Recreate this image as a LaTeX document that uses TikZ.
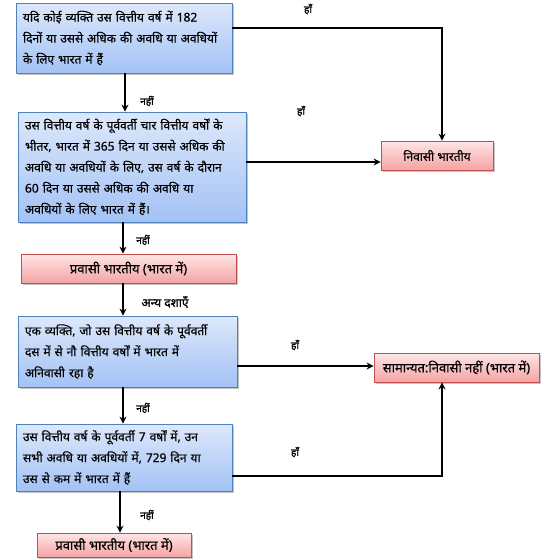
\documentclass[tikz,border=0pt]{standalone}
\usepackage{fontspec}
\setmainfont[Script=Devanagari]{Noto Sans}
\newfontfamily\devbold[Script=Devanagari, FakeBold=1.2]{Noto Sans}
\newfontfamily\devmid[Script=Devanagari, FakeBold=0.5]{Noto Sans}
\usetikzlibrary{arrows.meta,shadows}
\definecolor{bluetop}{HTML}{DDE8FB}
\definecolor{bluebot}{HTML}{A3C2F5}
\definecolor{blueedge}{HTML}{4F81BD}
\definecolor{redtop}{HTML}{FFE6E6}
\definecolor{redbot}{HTML}{F4A3A3}
\definecolor{rededge}{HTML}{C0504D}
\newcommand{\qfont}{\devmid\fontsize{12}{21}\selectfont\spaceskip=4pt plus 1pt minus 0.5pt\relax}
\tikzset{
  qbox/.style={draw=blueedge, line width=0.8pt, top color=bluetop, bottom color=bluebot,
    drop shadow={shadow xshift=1.5pt, shadow yshift=-2pt, fill=black!45},
    align=left, inner xsep=7pt, font=\qfont},
  rbox/.style={draw=rededge, line width=0.8pt, top color=redtop, bottom color=redbot,
    drop shadow={shadow xshift=1.5pt, shadow yshift=-2pt, fill=black!45},
    align=center, font=\devmid\fontsize{13}{15}\selectfont},
  arr/.style={line width=1.8pt, -{Stealth[length=7pt,width=7pt]}},
  lbl/.style={font=\devbold\fontsize{10}{12}\selectfont, inner sep=0pt}
}
\begin{document}
\begin{tikzpicture}[x=1pt,y=-1pt]
\useasboundingbox (0,0) rectangle (549,560);
% question boxes
\node[qbox, minimum width=216pt, minimum height=70pt, text width=202pt] (b1) at (124,38)
 {यदि कोई व्यक्ति उस वित्तीय वर्ष में 182\\ दिनों या उससे अधिक की अवधि या अवधियों\\ के लिए भारत में हैं};
\node[qbox, minimum width=228pt, minimum height=110pt, text width=214pt] (b2) at (132,167)
 {उस वित्तीय वर्ष के पूर्ववर्ती चार वित्तीय वर्षों के\\ भीतर, भारत में 365 दिन या उससे अधिक की\\ अवधि या अवधियों के लिए, उस वर्ष के दौरान\\ 60 दिन या उससे अधिक की अवधि या\\ अवधियों के लिए भारत में हैं।};
\node[rbox, minimum width=215pt, minimum height=29pt] (p1) at (128.5,268.5) {प्रवासी भारतीय (भारत में)};
\node[qbox, minimum width=219pt, minimum height=71pt, text width=205pt] (b3) at (127.5,351.5)
 {एक व्यक्ति, जो उस वित्तीय वर्ष के पूर्ववर्ती\\ दस में से नौ वित्तीय वर्षों में भारत में\\ अनिवासी रहा है};
\node[qbox, minimum width=216pt, minimum height=67pt, text width=202pt] (b4) at (124,457.5)
 {उस वित्तीय वर्ष के पूर्ववर्ती 7 वर्षों में, उन\\ सभी अवधि या अवधियों में, 729 दिन या\\ उस से कम में भारत में हैं};
\node[rbox, minimum width=154pt, minimum height=24pt] (p2) at (114,545) {प्रवासी भारतीय (भारत में)};
\node[rbox, minimum width=112pt, minimum height=29pt, font=\devmid\fontsize{12}{14}\selectfont] (niv) at (437,155.5) {निवासी भारतीय};
\node[rbox, minimum width=165pt, minimum height=29pt, inner xsep=2pt] (sam) at (456.5,367.5) {सामान्यत:निवासी नहीं (भारत में)};
% helper coordinates
\coordinate (c1) at (442,28);
\coordinate (c2) at (300,162);
\coordinate (c3) at (300,366);
\coordinate (c4) at (442,476);
\coordinate (d1) at (125,0);
\coordinate (d2) at (123,0);
\coordinate (d4) at (120,0);
% yes connectors
\draw[arr] (b1.east |- c1) -- (c1) -- (c1 |- niv.north);
\draw[arr] (b2.east |- c2) -- (niv.west |- c2);
\draw[arr] (b3.east |- c3) -- (sam.west |- c3);
\draw[arr] (b4.east |- c4) -- (c4) -- (c4 |- sam.south);
% no connectors
\draw[arr] (d1 |- b1.south) -- (d1 |- b2.north);
\draw[arr] (d2 |- b2.south) -- (d2 |- p1.north);
\draw[arr] (d2 |- p1.south) -- (d2 |- b3.north);
\draw[arr] (d2 |- b3.south) -- (d2 |- b4.north);
\draw[arr] (d4 |- b4.south) -- (d4 |- p2.north);
% labels
\node[lbl] (l1) at (308,9) {हाँ};
\node[lbl] (l2) at (301,111) {हाँ};
\node[lbl] (l3) at (295,345) {हाँ};
\node[lbl] (l4) at (295,452) {हाँ};
\node[lbl] (n1) at (147,101) {नहीं};
\node[lbl] (n2) at (143,240) {नहीं};
\node[lbl, font=\devbold\fontsize{12}{14}\selectfont] (n3) at (165,302) {अन्य दशाएँ};
\node[lbl] (n4) at (143,408) {नहीं};
\node[lbl] (n5) at (147,515) {नहीं};
\end{tikzpicture}
\end{document}
